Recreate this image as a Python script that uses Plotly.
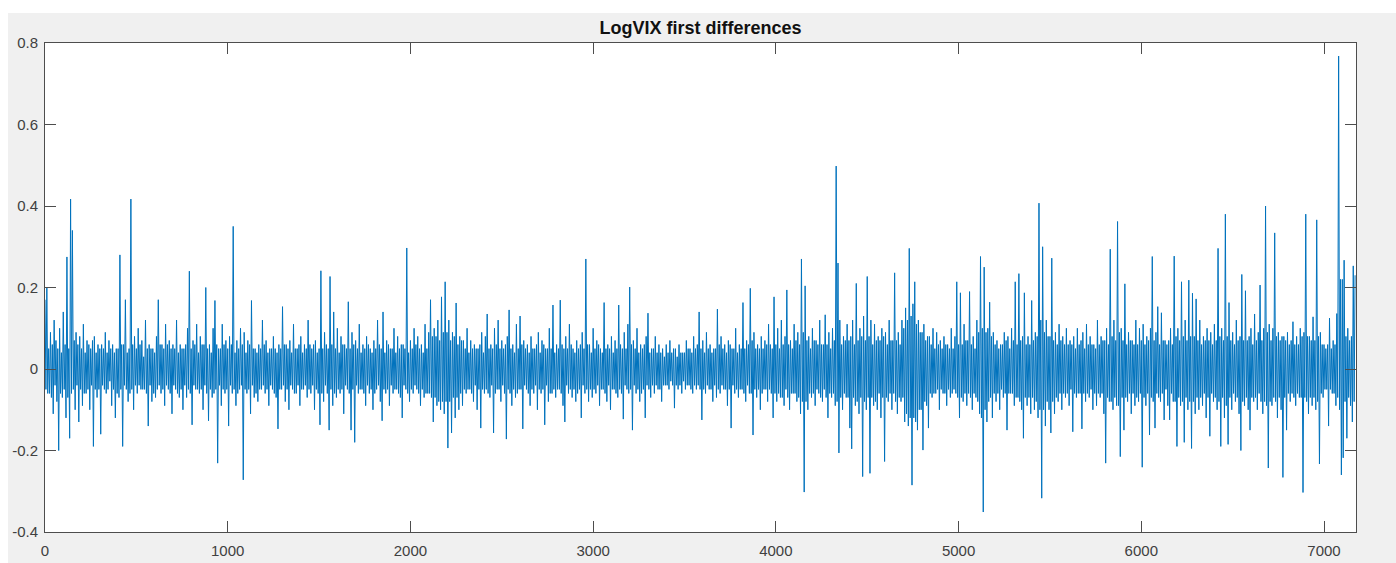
import plotly.graph_objects as go

# Sample index step between the read-off points (every 5th observation)
STEP = 5

vals_0000 = [
    0.17, -0.05, 0.20, -0.06, 0.05, -0.06, 0.09, -0.07, 0.06, -0.11, 0.12, -0.04, 0.07, -0.08, 0.05, -0.20, 0.10, -0.06, 0.04, -0.07,
    0.14, -0.05, 0.06, -0.12, 0.275, -0.07, 0.05, -0.17, 0.417, -0.06, 0.34, -0.05, 0.07, -0.10, 0.09, -0.04, 0.06, -0.13, 0.08, -0.05,
    0.05, -0.09, 0.11, -0.06, 0.04, -0.06, 0.07, -0.05, 0.06, -0.10, 0.05, -0.04, 0.07, -0.19, 0.08, -0.05, 0.04, -0.07, 0.06, -0.05,
    0.05, -0.16, 0.06, -0.04, 0.05, -0.05, 0.09, -0.06, 0.04, -0.05, 0.07, -0.03, 0.05, -0.09, 0.06, -0.05, 0.04, -0.12, 0.05, -0.06,
    0.05, -0.07, 0.28, -0.05, 0.06, -0.19, 0.06, -0.04, 0.17, -0.05, 0.04, -0.08, 0.05, -0.06, 0.417, -0.05, 0.06, -0.10, 0.08, -0.04,
    0.05, -0.06, 0.10, -0.04, 0.06, -0.05, 0.07, -0.05, 0.03, -0.05, 0.12, -0.06, 0.05, -0.14, 0.06, -0.04, 0.05, -0.08, 0.05, -0.06,
    0.04, -0.07, 0.08, -0.05, 0.17, -0.04, 0.06, -0.06, 0.06, -0.05, 0.05, -0.09, 0.11, -0.04, 0.06, -0.05, 0.07, -0.06, 0.05, -0.11,
    0.06, -0.04, 0.05, -0.05, 0.12, -0.06, 0.04, -0.07, 0.06, -0.05, 0.05, -0.10, 0.05, -0.04, 0.06, -0.07, 0.10, -0.05, 0.24, -0.06,
    0.05, -0.137, 0.07, -0.04, 0.06, -0.05, 0.11, -0.05, 0.04, -0.06, 0.08, -0.05, 0.06, -0.10, 0.06, -0.04, 0.20, -0.06, 0.05, -0.127,
    0.06, -0.05, 0.04, -0.07, 0.10, -0.06, 0.168, -0.05, 0.06, -0.231, 0.05, -0.04, 0.05, -0.09, 0.11, -0.05, 0.06, -0.06, 0.07, -0.05,
]
vals_1000 = [
    0.05, -0.14, 0.08, -0.04, 0.06, -0.06, 0.35, -0.05, 0.04, -0.09, 0.07, -0.06, 0.05, -0.05, 0.10, -0.04, 0.06, -0.272, 0.09, -0.05,
    0.04, -0.06, 0.07, -0.05, 0.06, -0.11, 0.168, -0.04, 0.05, -0.07, 0.05, -0.06, 0.04, -0.08, 0.06, -0.05, 0.05, -0.05, 0.12, -0.04,
    0.06, -0.06, 0.07, -0.05, 0.04, -0.09, 0.05, -0.04, 0.05, -0.05, 0.08, -0.06, 0.05, -0.07, 0.04, -0.147, 0.06, -0.05, 0.05, -0.05,
    0.153, -0.04, 0.06, -0.08, 0.06, -0.05, 0.05, -0.10, 0.07, -0.04, 0.04, -0.05, 0.11, -0.06, 0.05, -0.06, 0.05, -0.04, 0.06, -0.09,
    0.08, -0.05, 0.04, -0.05, 0.06, -0.04, 0.05, -0.07, 0.12, -0.05, 0.06, -0.06, 0.05, -0.04, 0.06, -0.10, 0.07, -0.05, 0.04, -0.06,
    0.05, -0.137, 0.241, -0.06, 0.05, -0.08, 0.09, -0.04, 0.06, -0.06, 0.05, -0.15, 0.227, -0.05, 0.06, -0.09, 0.14, -0.06, 0.05, -0.07,
    0.10, -0.05, 0.04, -0.06, 0.08, -0.05, 0.06, -0.11, 0.06, -0.04, 0.05, -0.05, 0.165, -0.06, 0.05, -0.15, 0.09, -0.05, 0.06, -0.18,
    0.07, -0.04, 0.05, -0.06, 0.11, -0.05, 0.04, -0.05, 0.06, -0.06, 0.05, -0.09, 0.08, -0.04, 0.06, -0.06, 0.05, -0.05, 0.04, -0.10,
    0.07, -0.06, 0.05, -0.05, 0.12, -0.04, 0.06, -0.08, 0.05, -0.127, 0.14, -0.05, 0.04, -0.06, 0.07, -0.05, 0.06, -0.09, 0.05, -0.04,
    0.05, -0.06, 0.10, -0.05, 0.04, -0.05, 0.08, -0.06, 0.05, -0.07, 0.06, -0.12, 0.06, -0.04, 0.05, -0.05, 0.297, -0.06, 0.04, -0.08,
]
vals_2000 = [
    0.07, -0.05, 0.05, -0.06, 0.10, -0.04, 0.06, -0.05, 0.08, -0.06, 0.05, -0.09, 0.06, -0.05, 0.04, -0.07, 0.11, -0.06, 0.05, -0.06,
    0.09, -0.06, 0.17, -0.07, 0.08, -0.13, 0.10, -0.07, 0.08, -0.09, 0.12, -0.08, 0.07, -0.10, 0.177, -0.08, 0.09, -0.11, 0.214, -0.08,
    0.09, -0.194, 0.12, -0.08, 0.07, -0.157, 0.09, -0.07, 0.08, -0.12, 0.162, -0.07, 0.06, -0.10, 0.08, -0.06, 0.07, -0.09, 0.07, -0.05,
    0.05, -0.06, 0.10, -0.05, 0.04, -0.05, 0.07, -0.06, 0.05, -0.08, 0.06, -0.04, 0.05, -0.10, 0.05, -0.05, 0.06, -0.145, 0.09, -0.05,
    0.04, -0.06, 0.08, -0.05, 0.135, -0.06, 0.05, -0.07, 0.06, -0.04, 0.05, -0.157, 0.10, -0.06, 0.06, -0.05, 0.12, -0.05, 0.05, -0.08,
    0.07, -0.04, 0.05, -0.06, 0.06, -0.172, 0.08, -0.05, 0.145, -0.06, 0.05, -0.09, 0.06, -0.05, 0.04, -0.07, 0.11, -0.06, 0.05, -0.05,
    0.13, -0.05, 0.06, -0.147, 0.07, -0.04, 0.05, -0.05, 0.06, -0.06, 0.04, -0.09, 0.08, -0.05, 0.05, -0.06, 0.05, -0.04, 0.06, -0.10,
    0.09, -0.05, 0.04, -0.06, 0.07, -0.05, 0.06, -0.137, 0.05, -0.04, 0.05, -0.08, 0.10, -0.06, 0.05, -0.06, 0.157, -0.05, 0.04, -0.07,
    0.06, -0.05, 0.05, -0.05, 0.169, -0.06, 0.06, -0.09, 0.05, -0.13, 0.08, -0.04, 0.05, -0.06, 0.11, -0.05, 0.06, -0.07, 0.05, -0.05,
    0.04, -0.08, 0.07, -0.06, 0.05, -0.05, 0.06, -0.12, 0.09, -0.04, 0.05, -0.06, 0.27, -0.05, 0.06, -0.08, 0.06, -0.05, 0.04, -0.07,
]
vals_3000 = [
    0.10, -0.05, 0.05, -0.06, 0.07, -0.04, 0.06, -0.09, 0.05, -0.05, 0.04, -0.05, 0.163, -0.06, 0.05, -0.08, 0.06, -0.04, 0.05, -0.10,
    0.08, -0.05, 0.04, -0.05, 0.07, -0.06, 0.05, -0.07, 0.157, -0.05, 0.06, -0.06, 0.05, -0.123, 0.09, -0.04, 0.05, -0.05, 0.11, -0.06,
    0.201, -0.05, 0.06, -0.15, 0.07, -0.04, 0.05, -0.06, 0.10, -0.05, 0.04, -0.08, 0.06, -0.06, 0.05, -0.05, 0.06, -0.12, 0.08, -0.04,
    0.137, -0.05, 0.04, -0.07, 0.05, -0.04, 0.05, -0.06, 0.08, -0.04, 0.04, -0.05, 0.06, -0.05, 0.04, -0.08, 0.05, -0.04, 0.03, -0.04,
    0.06, -0.04, 0.04, -0.05, 0.07, -0.03, 0.04, -0.04, 0.05, -0.096, 0.05, -0.04, 0.03, -0.05, 0.06, -0.04, 0.04, -0.06, 0.04, -0.03,
    0.04, -0.05, 0.07, -0.04, 0.05, -0.04, 0.05, -0.05, 0.04, -0.06, 0.08, -0.04, 0.05, -0.05, 0.06, -0.04, 0.14, -0.05, 0.05, -0.125,
    0.07, -0.05, 0.04, -0.06, 0.09, -0.04, 0.05, -0.05, 0.06, -0.05, 0.04, -0.08, 0.05, -0.04, 0.05, -0.07, 0.147, -0.05, 0.06, -0.06,
    0.08, -0.04, 0.05, -0.05, 0.06, -0.05, 0.04, -0.09, 0.07, -0.05, 0.06, -0.145, 0.05, -0.04, 0.05, -0.06, 0.10, -0.05, 0.04, -0.07,
    0.06, -0.05, 0.05, -0.05, 0.163, -0.06, 0.05, -0.08, 0.07, -0.04, 0.06, -0.06, 0.198, -0.06, 0.07, -0.162, 0.09, -0.05, 0.05, -0.07,
    0.06, -0.05, 0.05, -0.10, 0.08, -0.06, 0.05, -0.05, 0.07, -0.05, 0.06, -0.08, 0.11, -0.05, 0.06, -0.06, 0.05, -0.12, 0.177, -0.06,
]
vals_4000 = [
    0.06, -0.08, 0.10, -0.06, 0.05, -0.07, 0.12, -0.07, 0.06, -0.09, 0.08, -0.05, 0.194, -0.07, 0.06, -0.10, 0.07, -0.06, 0.05, -0.06,
    0.11, -0.06, 0.07, -0.08, 0.09, -0.07, 0.06, -0.11, 0.27, -0.08, 0.09, -0.302, 0.204, -0.08, 0.07, -0.10, 0.08, -0.06, 0.05, -0.07,
    0.10, -0.06, 0.07, -0.09, 0.07, -0.05, 0.06, -0.06, 0.12, -0.07, 0.06, -0.08, 0.06, -0.05, 0.133, -0.07, 0.06, -0.12, 0.09, -0.06,
    0.05, -0.07, 0.10, -0.06, 0.07, -0.09, 0.498, -0.08, 0.26, -0.206, 0.12, -0.07, 0.06, -0.10, 0.08, -0.06, 0.07, -0.07, 0.11, -0.07,
    0.07, -0.145, 0.08, -0.196, 0.12, -0.07, 0.06, -0.09, 0.21, -0.08, 0.07, -0.11, 0.10, -0.07, 0.08, -0.264, 0.13, -0.08, 0.07, -0.10,
    0.227, -0.07, 0.08, -0.256, 0.12, -0.07, 0.06, -0.09, 0.11, -0.08, 0.07, -0.10, 0.08, -0.06, 0.07, -0.12, 0.10, -0.07, 0.08, -0.227,
    0.09, -0.07, 0.06, -0.08, 0.12, -0.06, 0.07, -0.10, 0.07, -0.06, 0.236, -0.08, 0.07, -0.11, 0.09, -0.07, 0.06, -0.08, 0.12, -0.07,
    0.10, -0.13, 0.15, -0.11, 0.12, -0.14, 0.296, -0.12, 0.13, -0.285, 0.16, -0.12, 0.214, -0.13, 0.11, -0.15, 0.12, -0.10, 0.09, -0.10,
    0.09, -0.199, 0.11, -0.08, 0.07, -0.09, 0.08, -0.145, 0.08, -0.06, 0.06, -0.07, 0.10, -0.06, 0.05, -0.06, 0.09, -0.05, 0.06, -0.10,
    0.07, -0.05, 0.05, -0.06, 0.08, -0.06, 0.06, -0.09, 0.06, -0.05, 0.05, -0.07, 0.10, -0.06, 0.05, -0.05, 0.08, -0.06, 0.214, -0.07,
]
vals_5000 = [
    0.06, -0.12, 0.187, -0.07, 0.06, -0.08, 0.11, -0.06, 0.07, -0.09, 0.07, -0.06, 0.19, -0.07, 0.06, -0.10, 0.08, -0.06, 0.05, -0.07,
    0.12, -0.08, 0.09, -0.11, 0.276, -0.12, 0.10, -0.351, 0.25, -0.10, 0.09, -0.13, 0.10, -0.08, 0.164, -0.07, 0.08, -0.12, 0.09, -0.06,
    0.06, -0.08, 0.07, -0.06, 0.05, -0.10, 0.06, -0.05, 0.06, -0.07, 0.09, -0.06, 0.07, -0.15, 0.08, -0.06, 0.05, -0.06, 0.10, -0.06,
    0.07, -0.09, 0.214, -0.07, 0.06, -0.07, 0.234, -0.08, 0.07, -0.10, 0.08, -0.17, 0.187, -0.07, 0.06, -0.09, 0.08, -0.07, 0.06, -0.11,
    0.168, -0.07, 0.07, -0.10, 0.09, -0.08, 0.08, -0.12, 0.407, -0.10, 0.12, -0.317, 0.30, -0.10, 0.09, -0.14, 0.12, -0.08, 0.08, -0.10,
    0.08, -0.157, 0.272, -0.08, 0.07, -0.11, 0.09, -0.07, 0.06, -0.08, 0.11, -0.06, 0.07, -0.10, 0.08, -0.06, 0.06, -0.07, 0.10, -0.06,
    0.06, -0.09, 0.07, -0.05, 0.06, -0.154, 0.08, -0.06, 0.05, -0.07, 0.10, -0.06, 0.06, -0.06, 0.07, -0.147, 0.09, -0.06, 0.05, -0.08,
    0.11, -0.06, 0.06, -0.07, 0.08, -0.05, 0.06, -0.10, 0.06, -0.06, 0.05, -0.09, 0.12, -0.06, 0.06, -0.07, 0.08, -0.06, 0.07, -0.11,
    0.07, -0.231, 0.10, -0.07, 0.06, -0.08, 0.294, -0.08, 0.08, -0.10, 0.12, -0.07, 0.07, -0.09, 0.362, -0.09, 0.09, -0.215, 0.10, -0.07,
    0.07, -0.15, 0.209, -0.07, 0.06, -0.08, 0.09, -0.06, 0.07, -0.11, 0.07, -0.06, 0.06, -0.09, 0.12, -0.07, 0.06, -0.08, 0.10, -0.06,
]
vals_6000 = [
    0.07, -0.241, 0.11, -0.07, 0.06, -0.09, 0.08, -0.06, 0.07, -0.162, 0.10, -0.07, 0.276, -0.08, 0.07, -0.145, 0.09, -0.06, 0.153, -0.07,
    0.06, -0.08, 0.138, -0.06, 0.07, -0.125, 0.07, -0.05, 0.06, -0.09, 0.07, -0.125, 0.10, -0.06, 0.06, -0.08, 0.277, -0.08, 0.08, -0.19,
    0.10, -0.07, 0.07, -0.09, 0.214, -0.08, 0.08, -0.18, 0.12, -0.07, 0.07, -0.10, 0.218, -0.08, 0.08, -0.195, 0.186, -0.08, 0.08, -0.11,
    0.172, -0.07, 0.07, -0.10, 0.12, -0.07, 0.06, -0.09, 0.08, -0.06, 0.07, -0.12, 0.10, -0.07, 0.07, -0.165, 0.09, -0.06, 0.06, -0.08,
    0.11, -0.07, 0.07, -0.10, 0.296, -0.08, 0.08, -0.19, 0.10, -0.07, 0.07, -0.12, 0.38, -0.09, 0.08, -0.185, 0.163, -0.07, 0.07, -0.10,
    0.09, -0.06, 0.06, -0.08, 0.12, -0.07, 0.07, -0.11, 0.08, -0.20, 0.232, -0.08, 0.07, -0.09, 0.192, -0.07, 0.07, -0.10, 0.08, -0.15,
    0.10, -0.07, 0.06, -0.08, 0.135, -0.07, 0.07, -0.10, 0.09, -0.06, 0.206, -0.08, 0.07, -0.11, 0.10, -0.08, 0.40, -0.09, 0.09, -0.243,
    0.11, -0.08, 0.07, -0.09, 0.10, -0.07, 0.334, -0.08, 0.08, -0.12, 0.09, -0.07, 0.07, -0.10, 0.08, -0.266, 0.08, -0.07, 0.07, -0.15,
    0.09, -0.06, 0.06, -0.08, 0.07, -0.06, 0.116, -0.07, 0.06, -0.09, 0.08, -0.06, 0.06, -0.07, 0.10, -0.07, 0.08, -0.303, 0.09, -0.07,
    0.38, -0.08, 0.08, -0.11, 0.08, -0.07, 0.07, -0.09, 0.128, -0.07, 0.07, -0.10, 0.366, -0.08, 0.08, -0.233, 0.09, -0.06, 0.06, -0.07,
]
vals_7000 = [
    0.06, -0.05, 0.05, -0.05, 0.06, -0.14, 0.125, -0.05, 0.05, -0.06, 0.07, -0.06, 0.06, -0.09, 0.136, -0.07, 0.768, -0.10, 0.22, -0.26,
    0.22, -0.218, 0.267, -0.08, 0.08, -0.17, 0.10, -0.07, 0.07, -0.09, 0.08, -0.13, 0.253, -0.08, 0.23,
]

y_vals = vals_0000 + vals_1000 + vals_2000 + vals_3000 + vals_4000 + vals_5000 + vals_6000 + vals_7000
x_idx = [i * STEP for i in range(len(y_vals))]

x_tick_vals = [0, 1000, 2000, 3000, 4000, 5000, 6000, 7000]
x_tick_text = ["0", "1000", "2000", "3000", "4000", "5000", "6000", "7000"]
y_tick_vals = [-0.4, -0.2, 0, 0.2, 0.4, 0.6, 0.8]
y_tick_text = ["-0.4", "-0.2", "0", "0.2", "0.4", "0.6", "0.8"]

AX = "#4d4d4d"
TXT = "#404040"
FONT = "Liberation Sans, Arial, sans-serif"

fig = go.Figure()
fig.add_trace(go.Scatter(
    x=x_idx, y=y_vals, mode="lines",
    line=dict(color="#0072BD", width=1, simplify=False),
    hoverinfo="skip", showlegend=False,
))

axis_common = dict(
    showline=True, linecolor=AX, linewidth=1, mirror="allticks",
    ticks="inside", ticklen=11, tickwidth=1, tickcolor=AX,
    showgrid=False, zeroline=False, automargin=False,
    tickfont=dict(family=FONT, size=15, color=TXT),
)

fig.update_layout(
    width=1396, height=563,
    margin=dict(l=45, r=40, t=43, b=31),
    paper_bgcolor="white", plot_bgcolor="white",
    title=dict(
        text="<b>LogVIX first differences</b>",
        x=(45 + 1356) / 2 / 1396, xanchor="center",
        y=1 - 28 / 563, yanchor="middle", yref="container",
        font=dict(family=FONT, size=18, color="#111111"),
    ),
    xaxis=dict(range=[0, 7175], tickvals=x_tick_vals, ticktext=x_tick_text,
               ticklabelstandoff=5, **axis_common),
    yaxis=dict(range=[-0.4, 0.8], tickvals=y_tick_vals, ticktext=y_tick_text,
               ticklabelstandoff=3, **axis_common),
    shapes=[
        dict(type="rect", xref="paper", yref="paper", layer="below",
             x0=(8 - 45) / 1311, x1=(1396 - 45) / 1311,
             y0=(532 - 563) / 489, y1=(532 - 13) / 489,
             fillcolor="#f0f0f0", line=dict(width=0)),
        dict(type="rect", xref="paper", yref="paper", layer="below",
             x0=0, x1=1, y0=0, y1=1,
             fillcolor="white", line=dict(width=0)),
    ],
)

fig.write_html("out.html")
